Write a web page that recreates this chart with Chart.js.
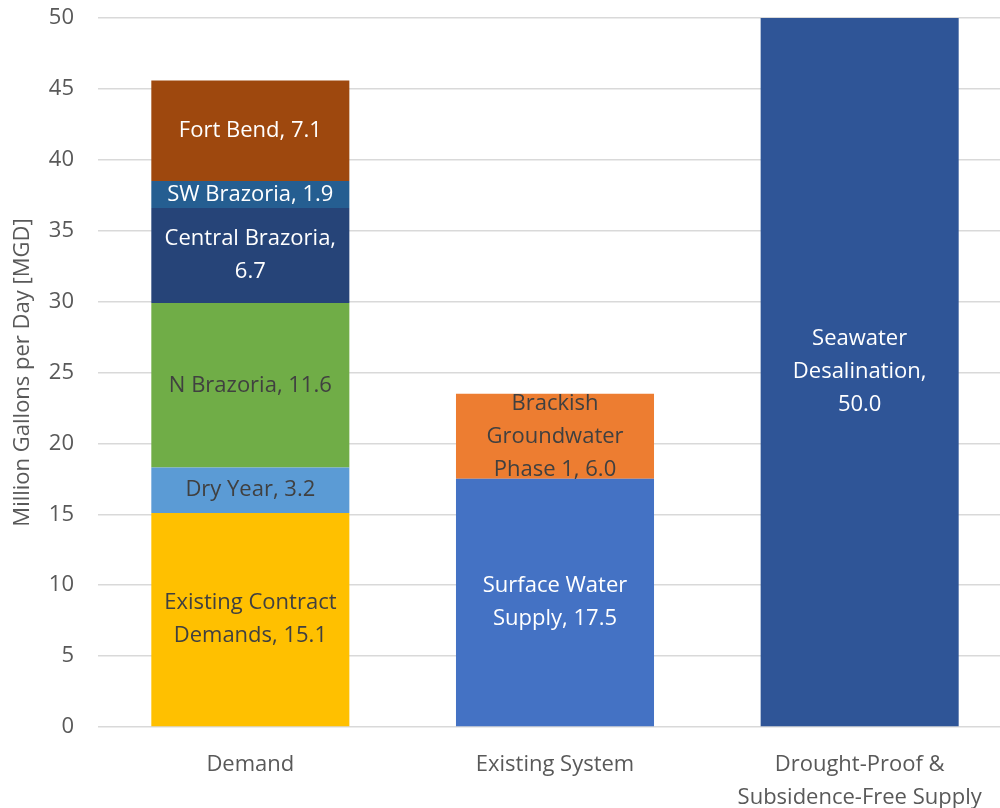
<!DOCTYPE html>
<html>
<head>
<meta charset="utf-8">
<script src="https://cdn.jsdelivr.net/npm/chart.js@4"></script>
<style>
  html, body { margin: 0; padding: 0; background: #fff; overflow: hidden; }
  #wrap { position: absolute; left: 0; top: 0; width: 1012px; height: 808px; }
</style>
</head>
<body>
<div id="wrap"><canvas id="chart" width="1012" height="808"></canvas></div>
<script>
// categories and tick labels
var categories = [['Demand'], ['Existing System'], ['Drought-Proof &', 'Subsidence-Free Supply']]
var yTicks = [0, 5, 10, 15, 20, 25, 30, 35, 40, 45, 50]

// each stacked piece: which bar, value, label lines
var segNames = ['Existing Contract Demands', 'Dry Year', 'N Brazoria', 'Central Brazoria', 'SW Brazoria', 'Fort Bend',
                'Surface Water Supply', 'Brackish Groundwater Phase 1', 'Seawater Desalination']
var segCategory = [0, 0, 0, 0, 0, 0, 1, 1, 2]
var segValues = [15.1, 3.2, 11.6, 6.7, 1.9, 7.1, 17.5, 6.0, 50.0]
var segLabels = [
  ['Existing Contract', 'Demands, 15.1'],
  ['Dry Year, 3.2'],
  ['N Brazoria, 11.6'],
  ['Central Brazoria,', '6.7'],
  ['SW Brazoria, 1.9'],
  ['Fort Bend, 7.1'],
  ['Surface Water', 'Supply, 17.5'],
  ['Brackish', 'Groundwater', 'Phase 1, 6.0'],
  ['Seawater', 'Desalination,', '50.0']
]
var segColors = ['#FFC000', '#5B9BD5', '#70AD47', '#264478', '#255E91', '#9E480E', '#4472C4', '#ED7D31', '#2F5597']
var segTextColors = ['#404040', '#404040', '#404040', '#fff', '#fff', '#fff', '#fff', '#404040', '#fff']

var FONT = "'Open Sans', sans-serif"

var datasets = segNames.map(function (name, i) {
  var d = categories.map(function () { return null })
  d[segCategory[i]] = segValues[i]
  return {
    label: name,
    data: d,
    backgroundColor: segColors[i],
    borderWidth: 0,
    categoryPercentage: 1,
    barPercentage: 0.65
  }
})

// draws the text labels in the middle of each piece
var segmentLabels = {
  id: 'segmentLabels',
  afterDatasetsDraw: function (chart) {
    var ctx = chart.ctx
    ctx.save()
    ctx.font = '22px ' + FONT
    ctx.textAlign = 'center'
    ctx.textBaseline = 'middle'
    chart.data.datasets.forEach(function (ds, i) {
      var meta = chart.getDatasetMeta(i)
      meta.data.forEach(function (bar, j) {
        if (ds.data[j] == null) return
        var lines = segLabels[i]
        var cy = (bar.y + bar.base) / 2
        var lh = 33
        ctx.fillStyle = segTextColors[i]
        lines.forEach(function (t, k) {
          ctx.fillText(t, bar.x, cy + (k - (lines.length - 1) / 2) * lh)
        })
      })
    })
    ctx.restore()
  }
}

new Chart(document.getElementById('chart'), {
  type: 'bar',
  data: { labels: categories, datasets: datasets },
  plugins: [segmentLabels],
  options: {
    responsive: false,
    animation: false,
    layout: { padding: { top: 18, left: 0, right: 0, bottom: 0 } },
    plugins: { legend: { display: false }, tooltip: { enabled: false } },
    scales: {
      x: {
        stacked: true,
        grid: { display: false },
        border: { display: false },
        ticks: { color: '#595959', font: { family: FONT, size: 22, lineHeight: 1.5 }, padding: 13, maxRotation: 0 },
        afterFit: function (s) { s.height = 81; s.paddingLeft = 0; s.paddingRight = 0 }
      },
      y: {
        stacked: true,
        min: 0,
        max: 50,
        afterBuildTicks: function (s) { s.ticks = yTicks.map(function (v) { return { value: v } }) },
        grid: { color: '#D9D9D9', lineWidth: 1.5, drawTicks: false },
        border: { display: false },
        ticks: { color: '#595959', font: { family: FONT, size: 22 }, padding: 24 },
        title: { display: true, text: 'Million Gallons per Day [MGD]', color: '#595959', font: { family: FONT, size: 22 }, padding: { top: 10, bottom: 4 } },
        afterFit: function (s) { s.width = 98; s.paddingTop = 0; s.paddingBottom = 0 }
      }
    }
  }
})
</script>
</body>
</html>
